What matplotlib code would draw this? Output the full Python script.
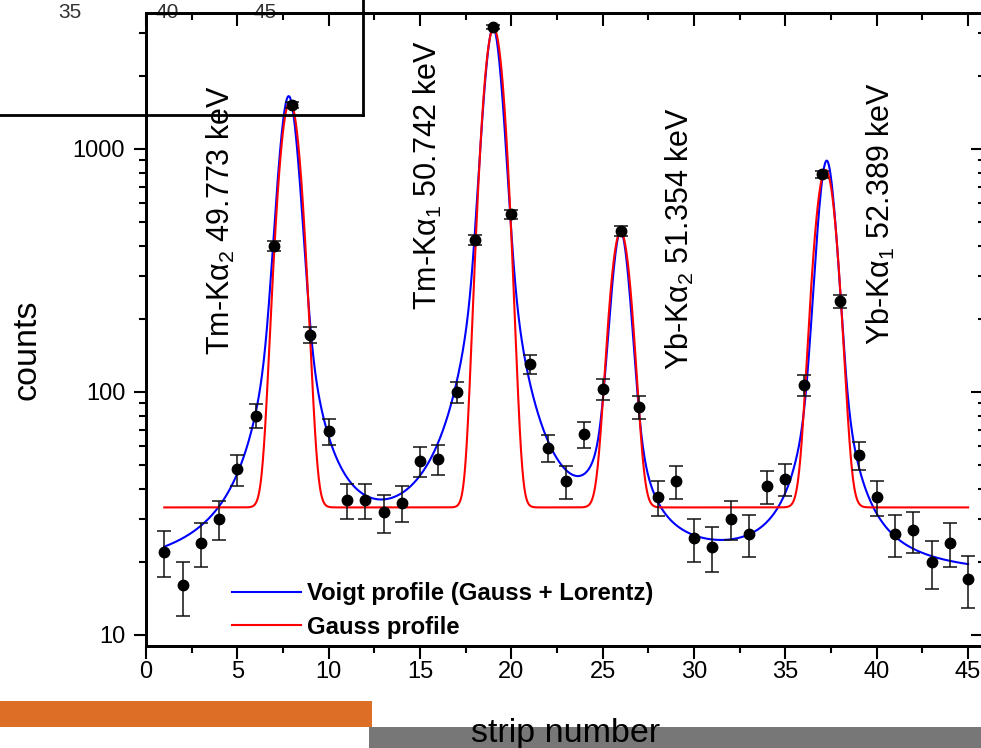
import numpy as np
import matplotlib
matplotlib.use('Agg')
import matplotlib.pyplot as plt
from matplotlib.lines import Line2D
from matplotlib.patches import Rectangle
from matplotlib.ticker import MultipleLocator, FuncFormatter, NullFormatter, LogLocator

plt.rcParams['font.family'] = ['Liberation Sans', 'DejaVu Sans']
plt.rcParams['mathtext.fontset'] = 'custom'
plt.rcParams['mathtext.rm'] = 'Liberation Sans'
plt.rcParams['mathtext.it'] = 'Liberation Sans:italic'
plt.rcParams['mathtext.default'] = 'regular'

# measured spectrum (counts per strip)
strip = list(range(1, 46))
counts = [22, 16, 24, 30, 48, 80, 400, 1520, 172, 69,
          36, 36, 32, 35, 52, 53, 100, 423, 3186, 538,
          130, 59, 43, 67, 103, 461, 87, 37, 43, 25,
          23, 30, 26, 41, 44, 107, 787, 236, 55, 37,
          26, 27, 20, 24, 17]

# fit parameters
voigt_center = [7.81, 19.0, 25.98, 37.26]
voigt_amp = [1630, 3130, 433, 877]
voigt_hwhm = [0.55, 0.52, 0.52, 0.51]
voigt_eta = 0.45
voigt_base = 17

gauss_center = [7.88, 19.03, 25.98, 37.2]
gauss_amp = [1532, 3110, 423, 786]
gauss_sigma = [0.50, 0.48, 0.49, 0.51]
gauss_base = 33.5

peak_labels = ['Tm-K$\\alpha_2$ 49.773 keV', 'Tm-K$\\alpha_1$ 50.742 keV',
               'Yb-K$\\alpha_2$ 51.354 keV', 'Yb-K$\\alpha_1$ 52.389 keV']
label_x = [4.1, 15.45, 29.25, 40.25]
label_y = [142, 217, 123, 156]


def voigt(x):
    y = np.full_like(x, voigt_base, dtype=float)
    for c, a, w in zip(voigt_center, voigt_amp, voigt_hwhm):
        u = ((x - c) / w) ** 2
        y += a * (voigt_eta / (1 + u) + (1 - voigt_eta) * np.exp(-np.log(2) * u))
    return y


def gauss(x):
    y = np.full_like(x, gauss_base, dtype=float)
    for c, a, s in zip(gauss_center, gauss_amp, gauss_sigma):
        y += a * np.exp(-(x - c) ** 2 / (2 * s ** 2))
    return y


W, H = 981, 748
fig = plt.figure(figsize=(W / 100, H / 100), dpi=100)
fig.patch.set_facecolor('white')

ax = fig.add_axes([146 / W, (H - 646) / H, (982 - 146) / W, 633 / H])
ax.set_facecolor('none')

xs = np.linspace(1, 45, 2000)
ax.plot(xs, voigt(xs), color='#0000ff', lw=1.5, label='Voigt profile (Gauss + Lorentz)', zorder=2)
ax.plot(xs, gauss(xs), color='#ff0000', lw=1.5, label='Gauss profile', zorder=3)

err = np.sqrt(np.array(counts, dtype=float))
ax.errorbar(strip, counts, yerr=err, fmt='o', color='black', ms=7.5,
            ecolor='#111111', elinewidth=1.1, capsize=5, capthick=1.1, zorder=4)

ax.set_yscale('log')
ax.set_xlim(0, 45.76)
ax.set_ylim(9.01, 3628)

ax.xaxis.set_major_locator(MultipleLocator(5))
ax.xaxis.set_minor_locator(MultipleLocator(2.5))
ax.yaxis.set_major_locator(LogLocator(base=10))
ax.yaxis.set_minor_locator(LogLocator(base=10, subs=np.arange(2, 10)))
ax.yaxis.set_major_formatter(FuncFormatter(lambda v, p: '%g' % v))
ax.yaxis.set_minor_formatter(NullFormatter())

ax.tick_params(which='both', direction='out', top=False, right=False, width=1.5, labelsize=17)
ax.tick_params(which='major', length=9)
ax.tick_params(which='minor', length=5)
ax.tick_params(axis='x', pad=2)
ax.tick_params(axis='y', pad=6)

# mirrored ticks on top and right, pointing inward
axt = ax.twiny()
axt.set_xlim(ax.get_xlim())
axt.xaxis.set_major_locator(MultipleLocator(5))
axt.xaxis.set_minor_locator(MultipleLocator(2.5))
axt.tick_params(which='both', direction='in', labeltop=False, width=1.5)
axt.tick_params(which='major', length=9)
axt.tick_params(which='minor', length=5)

axr = ax.twinx()
axr.set_yscale('log')
axr.set_ylim(ax.get_ylim())
axr.yaxis.set_minor_locator(LogLocator(base=10, subs=np.arange(2, 10)))
axr.yaxis.set_minor_formatter(NullFormatter())
axr.tick_params(which='both', direction='in', labelright=False, width=1.5)
axr.tick_params(which='major', length=8)
axr.tick_params(which='minor', length=3)

for a in (ax, axt, axr):
    for sp in a.spines.values():
        sp.set_linewidth(1.8)

ax.set_ylabel('counts', fontsize=24.5)
ax.yaxis.set_label_coords(-0.1244, 0.468)

for txt, lx, ly in zip(peak_labels, label_x, label_y):
    ax.text(lx, ly, txt, rotation=90, ha='center', va='bottom', fontsize=22)

ax.legend(loc='upper left', bbox_to_anchor=(232 / W, 1 - 582 / H), bbox_transform=fig.transFigure,
          frameon=False, prop={'weight': 'bold', 'size': 17.2}, handlelength=2.9,
          handletextpad=0.25, labelspacing=0.45, borderpad=0, borderaxespad=0)

# neighbouring panel fragments
fig.add_artist(Line2D([0, 363 / W], [1 - 115 / H, 1 - 115 / H], color='black', lw=2, zorder=5))
fig.add_artist(Line2D([363 / W, 363 / W], [1 - 115 / H, 1], color='black', lw=2, zorder=5))
for lab, px in zip(['35', '40', '45'], [70, 167, 265]):
    fig.text(px / W, 1 - 12 / H, lab, ha='center', va='center', fontsize=15, color='#333333', zorder=-1)

fig.add_artist(Rectangle((0, (H - 727) / H), 372 / W, 26 / H, transform=fig.transFigure,
                         facecolor='#dd6e26', edgecolor='none', zorder=-2))
fig.add_artist(Rectangle((369 / W, 0), (W - 369) / W, 21 / H, transform=fig.transFigure,
                         facecolor='#767776', edgecolor='none', zorder=-2))
fig.text(566 / W, 1 - 742 / H, 'strip number', ha='center', va='baseline', fontsize=24.5)

fig.savefig('out.png', dpi=100)
